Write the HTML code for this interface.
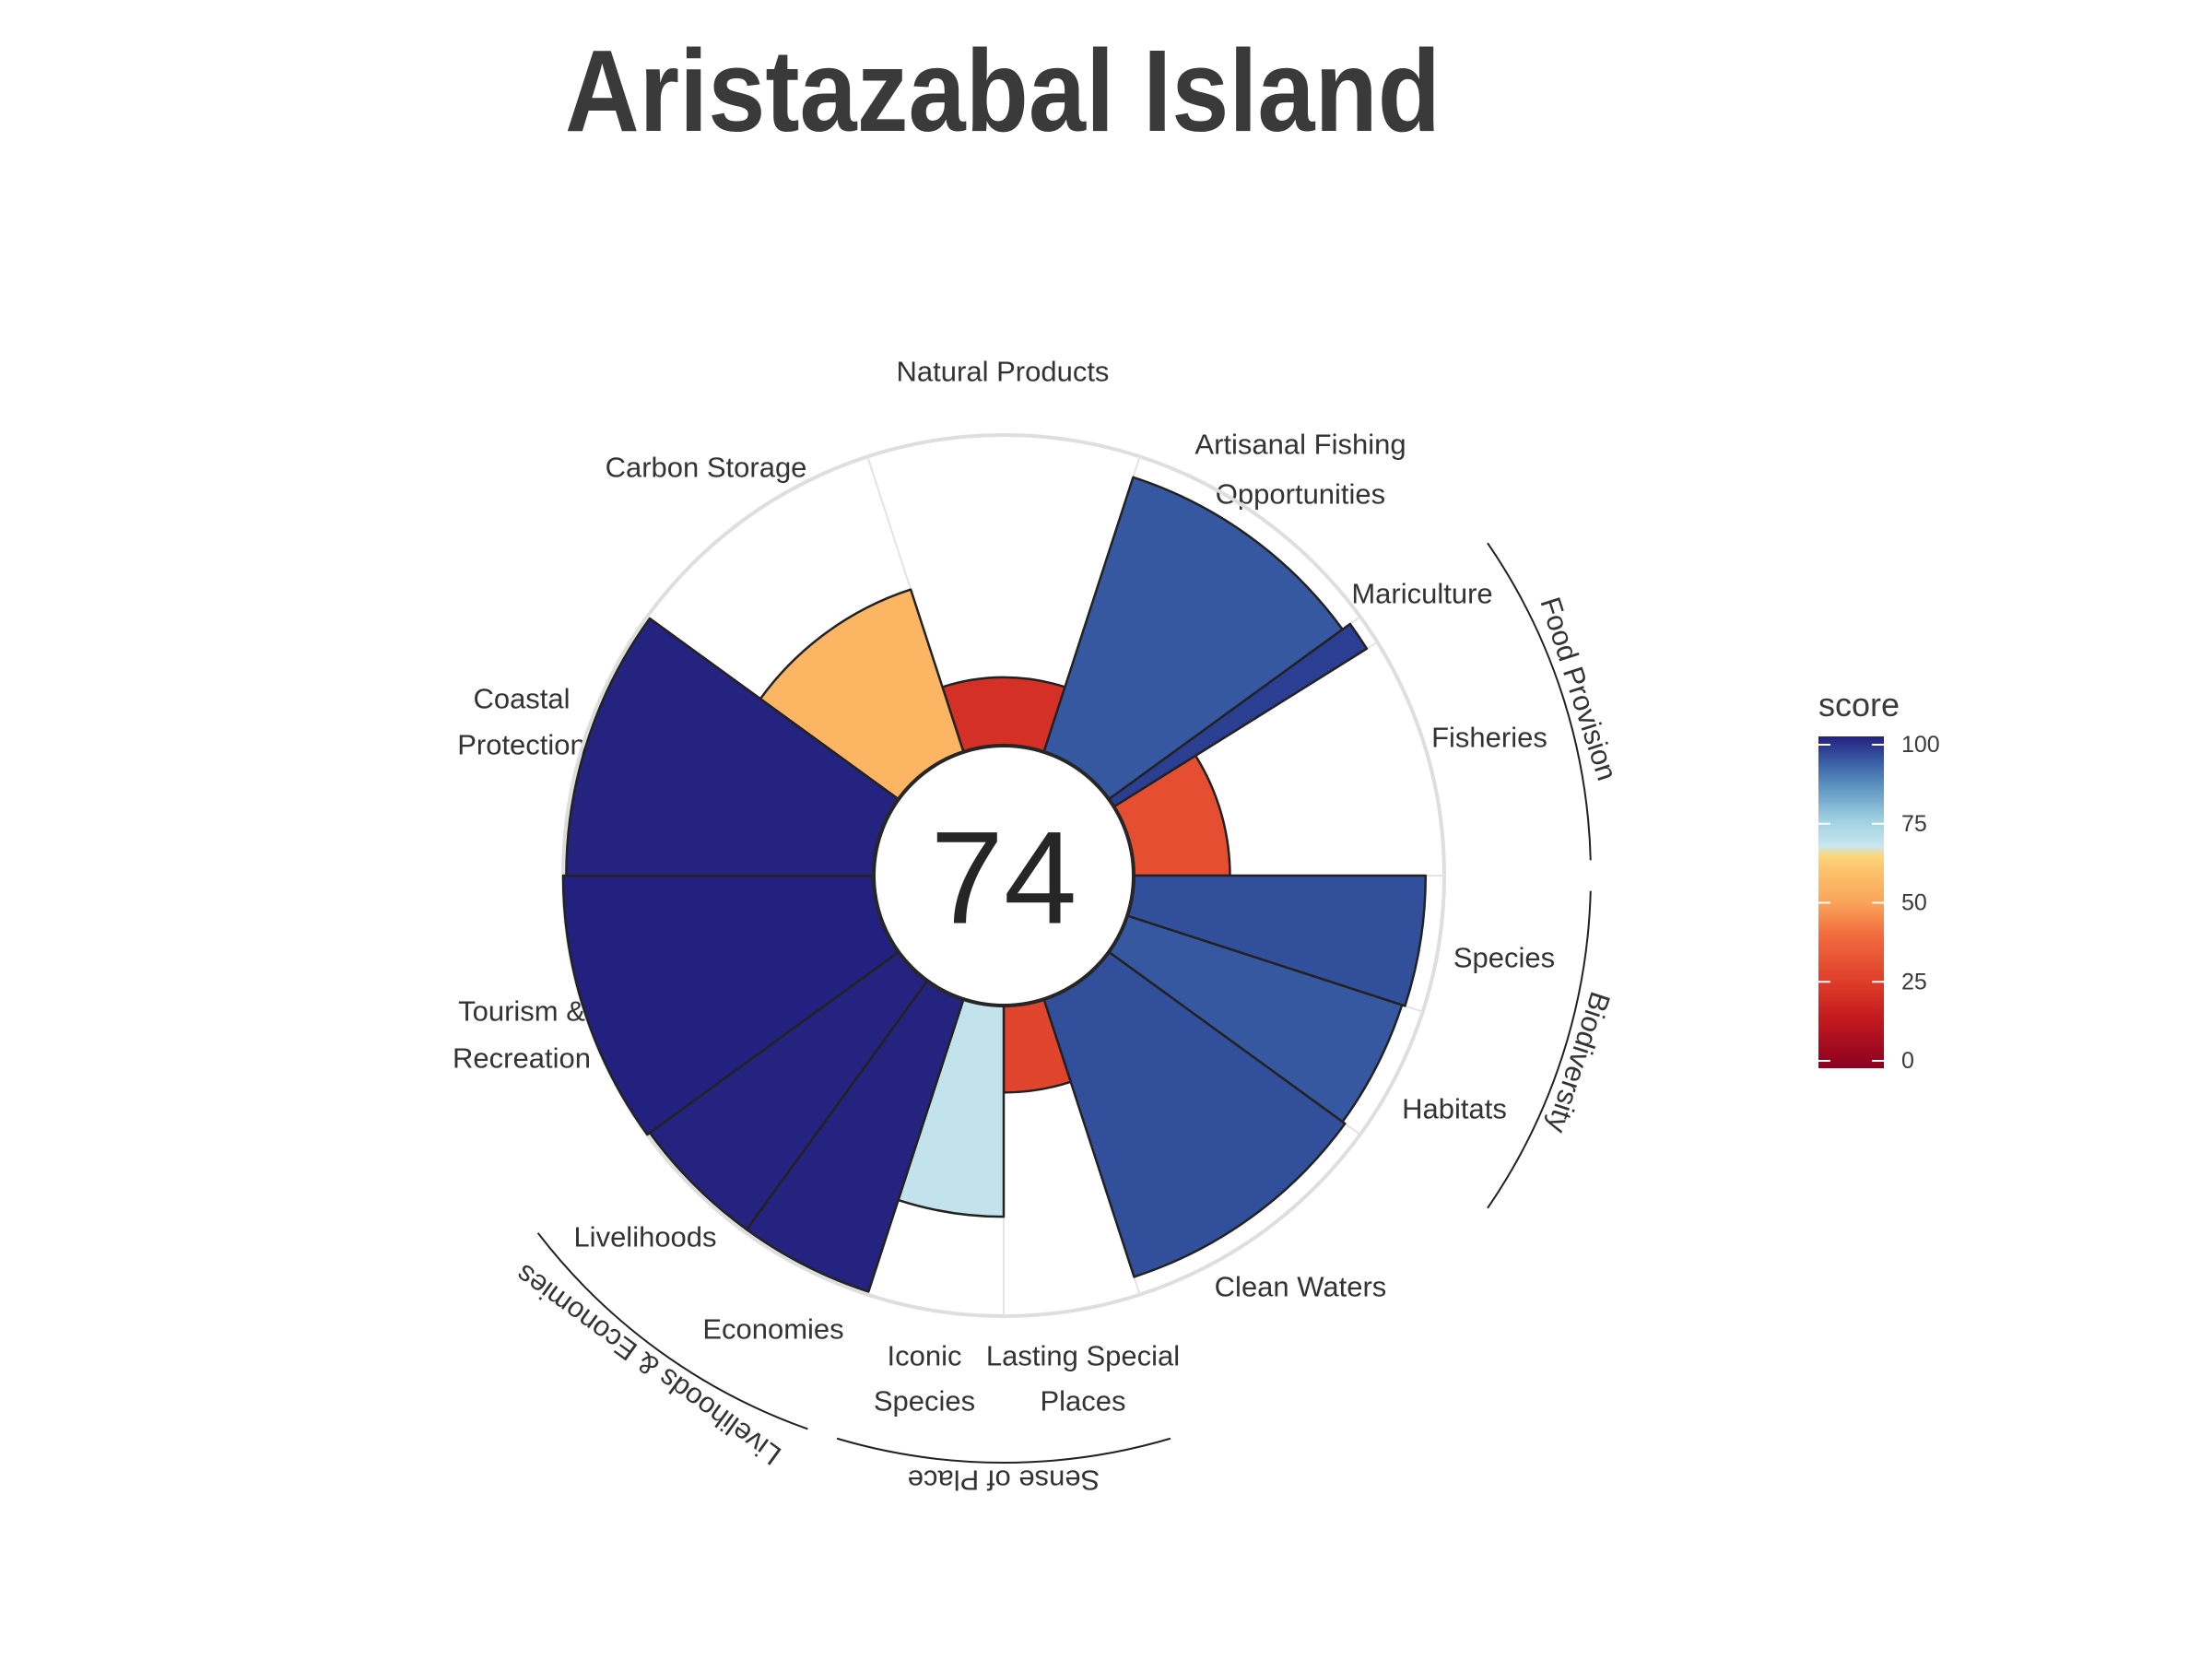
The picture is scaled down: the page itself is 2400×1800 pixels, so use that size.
<!DOCTYPE html>
<html><head><meta charset="utf-8"><style>
html,body{margin:0;padding:0;background:#fff;}
svg{display:block;font-family:"Liberation Sans",Arial,sans-serif;}
</style></head><body>
<svg id="chart" width="2400" height="1800" viewBox="0 0 2400 1800">
<defs>
<linearGradient id="grad" x1="0" y1="1" x2="0" y2="0">
<stop offset="0" stop-color="#8b0020"/><stop offset="0.15" stop-color="#c41a1e"/><stop offset="0.25" stop-color="#dc3a28"/>
<stop offset="0.4" stop-color="#f26b3e"/><stop offset="0.5" stop-color="#f9a55a"/><stop offset="0.6" stop-color="#fcc46c"/>
<stop offset="0.64" stop-color="#fcd77a"/><stop offset="0.67" stop-color="#c8e6ee"/><stop offset="0.75" stop-color="#9ecfe0"/>
<stop offset="0.85" stop-color="#5c93c0"/><stop offset="0.92" stop-color="#3a60a6"/><stop offset="1" stop-color="#23217f"/>
</linearGradient>
</defs>
<text x="1088" y="142" text-anchor="middle" font-size="126" font-weight="bold" fill="#3a3a3a" textLength="950" lengthAdjust="spacingAndGlyphs">Aristazabal Island</text>
<g id="labels" font-size="31" fill="#333" text-anchor="middle" dominant-baseline="central">
<text x="1088" y="403">Natural Products</text>
<text x="766" y="507">Carbon Storage</text>
<text x="1411" y="482">Artisanal Fishing</text>
<text x="1411" y="536">Opportunities</text>
<text x="1543" y="644">Mariculture</text>
<text x="1616" y="800">Fisheries</text>
<text x="1632" y="1039">Species</text>
<text x="1578" y="1203">Habitats</text>
<text x="1411" y="1396">Clean Waters</text>
<text x="1175" y="1471">Lasting Special</text>
<text x="1175" y="1520">Places</text>
<text x="1003" y="1471">Iconic</text>
<text x="1003" y="1520">Species</text>
<text x="839" y="1442">Economies</text>
<text x="700" y="1342">Livelihoods</text>
<text x="566" y="1097">Tourism &amp;</text>
<text x="566" y="1148">Recreation</text>
<text x="566" y="758">Coastal</text>
<text x="566" y="808">Protection</text>
</g>
<g id="grid"></g>
<g id="petals"></g>
<g id="groups"></g>
<circle cx="1089" cy="950" r="141" fill="#fff" stroke="#262626" stroke-width="4"/>
<text x="1089" y="953" text-anchor="middle" dominant-baseline="central" font-size="143" fill="#262626">74</text>
<g id="legend">
<text x="1973" y="777" font-size="36" fill="#3a3a3a">score</text>
<rect x="1973" y="799" width="71" height="360" fill="url(#grad)"/>
</g>
</svg>
<script>
const goals = ["Natural Products","Artisanal Fishing Opportunities","Mariculture","Fisheries","Species","Habitats","Clean Waters","Lasting Special Places","Iconic Species","Economies","Livelihoods","Tourism & Recreation","Coastal Protection","Carbon Storage"];
const scores = [22,93,96,31,94,93,94,28,68,99,99,100,99,55];
const weights = [36,36,4,32,18,18,36,18,18,18,18,36,36,36];
const groupNames = ["Food Provision","Biodiversity","Sense of Place","Livelihoods & Economies"];
const groupStart = [54,90,162,198];
const groupEnd = [90,126,198,234];
const legendTicks = [0,25,50,75,100];

const NS="http://www.w3.org/2000/svg";
const cx=1089, cy=950, r0=141, R=478, startAngle=-18;
const stops=[[0,"#8b0020"],[15,"#c41a1e"],[25,"#dc3a28"],[40,"#f26b3e"],[50,"#f9a55a"],[60,"#fcc46c"],[64,"#fcd77a"],[67,"#c8e6ee"],[75,"#9ecfe0"],[85,"#5c93c0"],[92,"#3a60a6"],[96,"#2a3e92"],[98,"#24247f"],[100,"#23217f"]];
function hex(h){return [1,3,5].map(i=>parseInt(h.substr(i,2),16));}
function color(v){
  for(let i=1;i<stops.length;i++){if(v<=stops[i][0]){const a=stops[i-1],b=stops[i];const t=(v-a[0])/(b[0]-a[0]);const ca=hex(a[1]),cb=hex(b[1]);return "rgb("+ca.map((c,k)=>Math.round(c+(cb[k]-c)*t)).join(",")+")";}}
  return stops[stops.length-1][1];
}
function rScale(v){return r0+v/100*(R-r0);}
function pt(a,r){const t=a*Math.PI/180;return [cx+r*Math.sin(t),cy-r*Math.cos(t)];}
function sector(a1,a2,ri,ro){
  const p1=pt(a1,ri),p2=pt(a1,ro),p3=pt(a2,ro),p4=pt(a2,ri);const lg=(a2-a1)>180?1:0;
  return `M${p1} L${p2} A${ro},${ro} 0 ${lg} 1 ${p3} L${p4} A${ri},${ri} 0 ${lg} 0 ${p1} Z`;
}
const grid=document.getElementById("grid"),petals=document.getElementById("petals"),groups=document.getElementById("groups");
const ring=document.createElementNS(NS,"circle");
ring.setAttribute("cx",cx);ring.setAttribute("cy",cy);ring.setAttribute("r",R);ring.setAttribute("fill","none");ring.setAttribute("stroke","#dedede");ring.setAttribute("stroke-width","4");


grid.appendChild(ring);
let a=startAngle;
goals.forEach((g,i)=>{
  const a1=a,a2=a+weights[i];a=a2;
  const p1=pt(a1,r0),p2=pt(a1,R);
  const ln=document.createElementNS(NS,"line");
  ln.setAttribute("x1",p1[0]);ln.setAttribute("y1",p1[1]);ln.setAttribute("x2",p2[0]);ln.setAttribute("y2",p2[1]);
  ln.setAttribute("stroke","#e3e3e3");ln.setAttribute("stroke-width","2");
  
  
  grid.appendChild(ln);
  const p=document.createElementNS(NS,"path");
  p.setAttribute("d",sector(a1,a2,r0,rScale(scores[i])));
  p.setAttribute("fill",color(scores[i]));p.setAttribute("stroke","#222");p.setAttribute("stroke-width","2.5");p.setAttribute("stroke-linejoin","round");
  
  
  petals.appendChild(p);
});
groupNames.forEach((n,i)=>{
  const rr=637,s=groupStart[i]+1.5,e=groupEnd[i]-1.5;
  const p1=pt(s,rr),p2=pt(e,rr);
  const arc=document.createElementNS(NS,"path");
  arc.setAttribute("d",`M${p1} A${rr},${rr} 0 0 1 ${p2}`);arc.setAttribute("fill","none");arc.setAttribute("stroke","#222");arc.setAttribute("stroke-width","2");
  
  
  groups.appendChild(arc);
  const m=(groupStart[i]+groupEnd[i])/2,tp=pt(m,656);
  const t=document.createElementNS(NS,"text");
  t.setAttribute("x",tp[0]);t.setAttribute("y",tp[1]);t.setAttribute("text-anchor","middle");t.setAttribute("dominant-baseline","central");
  t.setAttribute("font-size","31");t.setAttribute("fill","#333");t.setAttribute("transform",`rotate(${m} ${tp[0]} ${tp[1]})`);
  t.textContent=n;
  
  
  groups.appendChild(t);
});
const leg=document.getElementById("legend");
legendTicks.forEach(v=>{
  const y=1151-v/100*343;
  [[1973,1986],[2031,2044]].forEach(xx=>{
    const l=document.createElementNS(NS,"line");
    l.setAttribute("x1",xx[0]);l.setAttribute("x2",xx[1]);l.setAttribute("y1",y);l.setAttribute("y2",y);l.setAttribute("stroke","#fff");l.setAttribute("stroke-width","2");
    
    
    leg.appendChild(l);
  });
  const t=document.createElementNS(NS,"text");
  t.setAttribute("x",2063);t.setAttribute("y",y);t.setAttribute("dominant-baseline","central");t.setAttribute("font-size","25");t.setAttribute("fill","#3a3a3a");
  t.textContent=v;
  
  
  leg.appendChild(t);
});
</script>
</body></html>
